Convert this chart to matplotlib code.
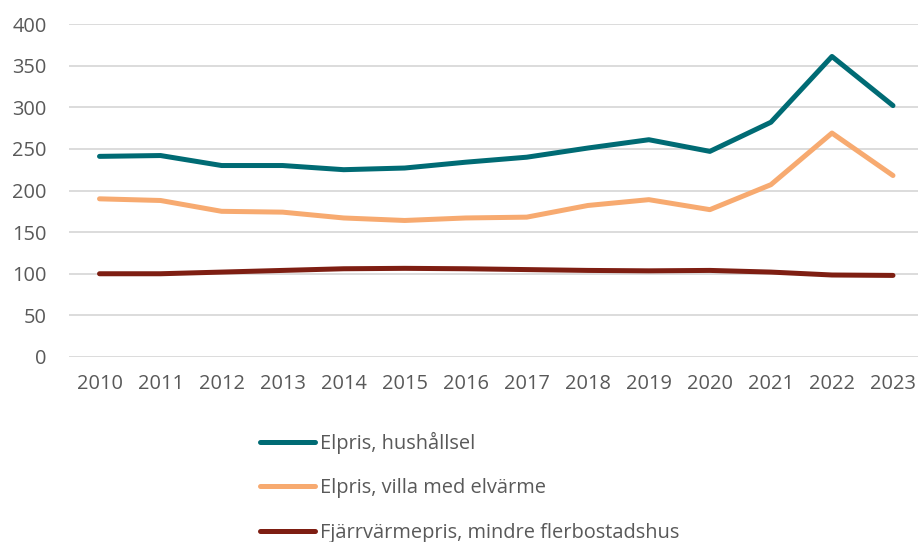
import matplotlib
matplotlib.use('Agg')
from matplotlib import pyplot as plt
import numpy as np

years = [str(y) for y in range(2010, 2024)]
elpris_hushall = [241, 242, 230, 230, 225, 227, 234, 240, 251, 261, 247, 282, 361, 302]
elpris_villa = [190, 188, 175, 174, 167, 164, 167, 168, 182, 189, 177, 207, 269, 218]
fjarrvarme = [100, 100, 102, 104, 106, 106.5, 106, 105, 104, 103.5, 104, 102, 98.5, 98]

labels = ['Elpris, hushållsel', 'Elpris, villa med elvärme',
          'Fjärrvärmepris, mindre flerbostadshus']
colors = ['#006B74', '#F7AA70', '#7E1E12']

plt.rcParams['font.family'] = ['Open Sans', 'DejaVu Sans']
txt = '#595959'
fs = 14.4

fig = plt.figure(figsize=(9.18, 5.42), dpi=100)
ax = fig.add_axes([69/918, 1-357/542, (923.5-69)/918, (357-24)/542])

x = np.arange(len(years))
for vals, lab, c in zip([elpris_hushall, elpris_villa, fjarrvarme], labels, colors):
    ax.plot(x, vals, color=c, lw=3.6, label=lab, solid_capstyle='round',
            solid_joinstyle='round')

ax.set_xlim(-0.5, len(years) - 0.5)
ax.set_ylim(0, 400)
ax.set_yticks(np.arange(0, 401, 50))
ax.set_xticks(x)
ax.set_xticklabels(years)
ax.grid(axis='y', color='#D9D9D9', lw=1.3)
ax.set_axisbelow(True)
for s in ax.spines.values():
    s.set_visible(False)
ax.tick_params(length=0, labelsize=fs, labelcolor=txt)
ax.tick_params(axis='x', pad=12)
ax.tick_params(axis='y', pad=16)

# legend sits below the plot; the last row runs off the bottom edge, as in the original
handles, labs = ax.get_legend_handles_labels()
leg = fig.legend(handles, labs, loc='upper left', bbox_to_anchor=(260/918, 1-432/542),
                 frameon=False, fontsize=fs, labelcolor=txt, handlelength=2.75,
                 handletextpad=0.25, labelspacing=1.22, borderpad=0, borderaxespad=0)

fig.savefig('out.png', dpi=100)
